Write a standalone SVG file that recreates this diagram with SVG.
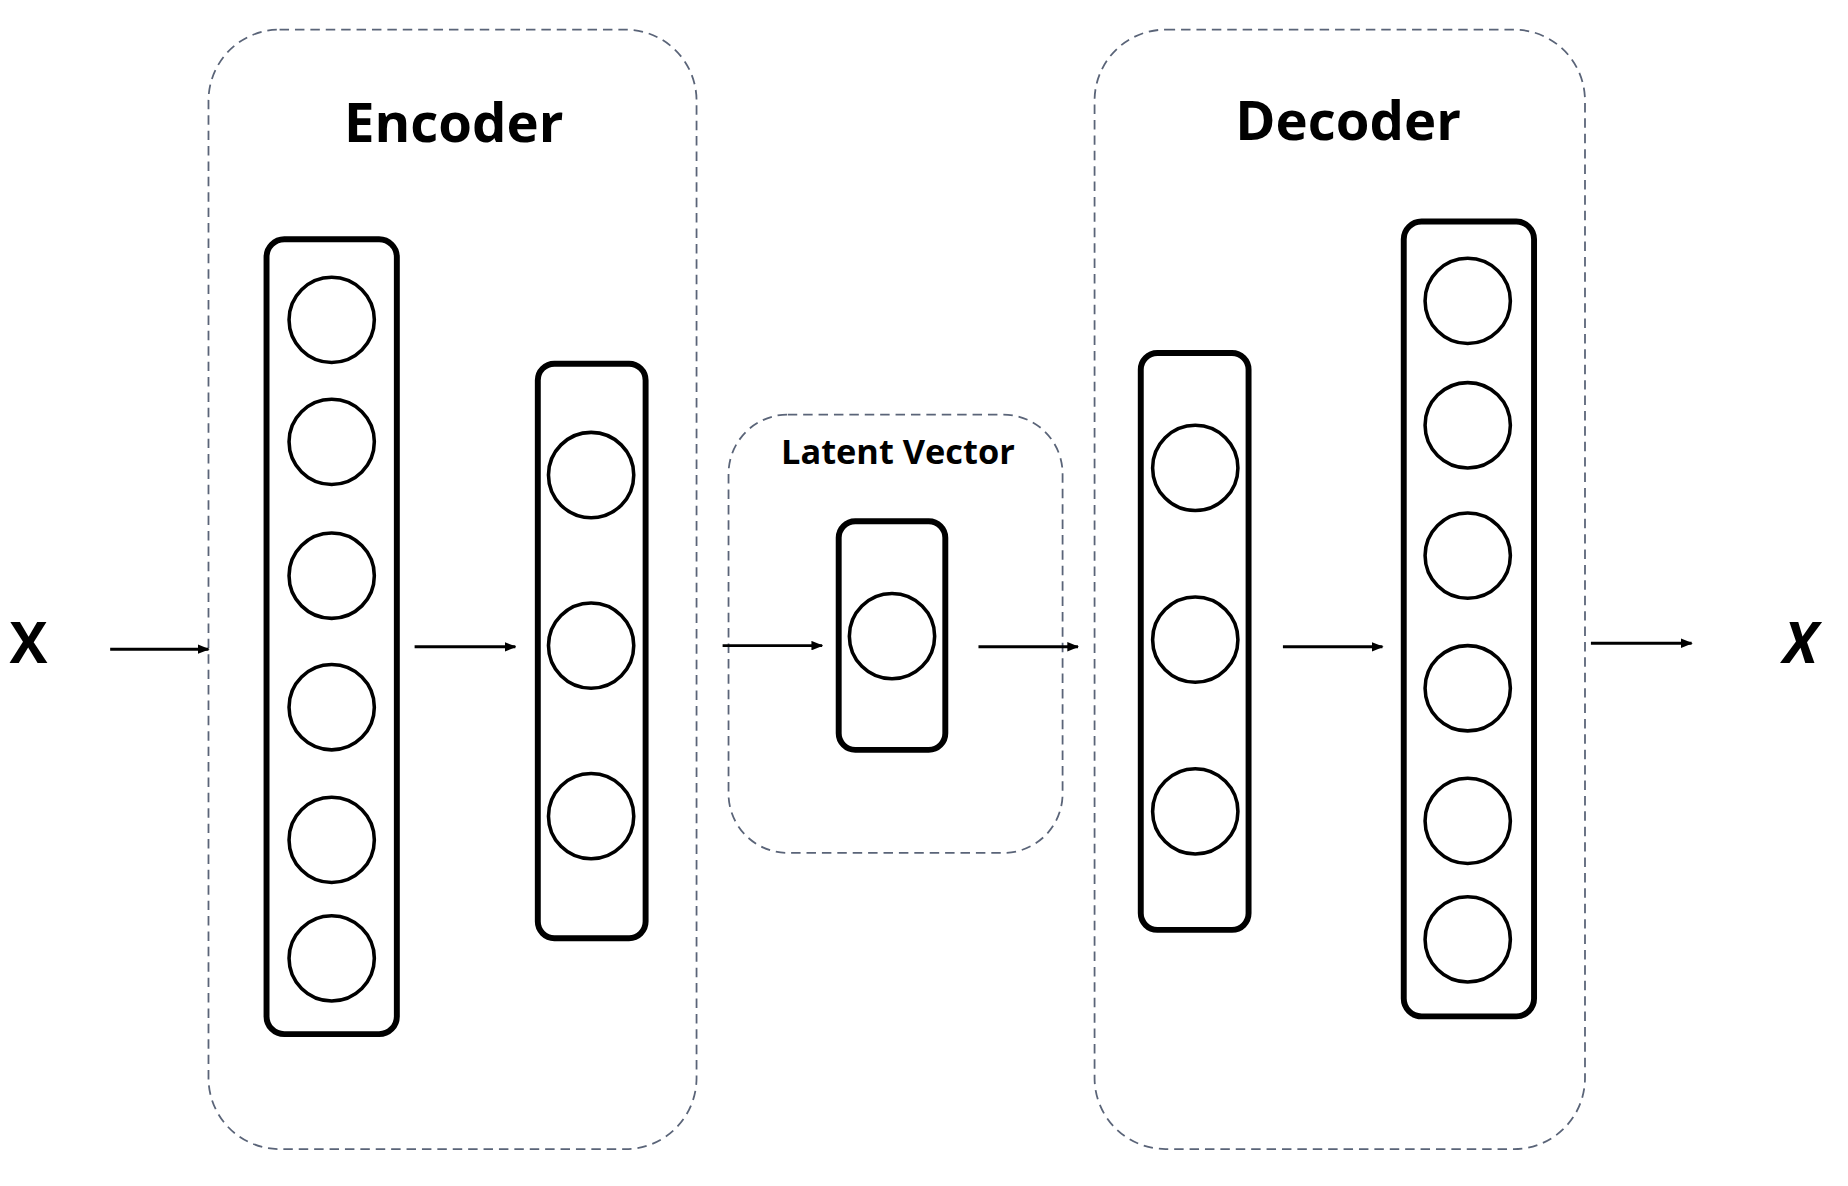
<svg xmlns="http://www.w3.org/2000/svg" width="1848" height="1186" viewBox="0 0 1848 1186">
<defs>
<marker id="ah" markerWidth="10" markerHeight="8" refX="9" refY="4" orient="auto" markerUnits="userSpaceOnUse"><path d="M0,0 L10,4 L0,8 Z" fill="#000"/></marker>
<style>
.grp{fill:none;stroke:#5a6478;stroke-width:1.5;stroke-dasharray:8,5}
.lay{fill:#fff;stroke:#000;stroke-width:5}
.neu{fill:#fff;stroke:#000;stroke-width:3}
.arr{stroke:#000;stroke-width:2.5;marker-end:url(#ah)}
.t{font-family:"Open Sans","DejaVu Sans",sans-serif;font-weight:bold;fill:#000;text-anchor:middle}
</style>
</defs>
<rect width="1848" height="1186" fill="#fff"/>
<g transform="scale(1.1846)">
<g id="encoder"><rect class="grp" x="176" y="25" width="412" height="945" rx="60"/><text class="t" x="383" y="120" font-size="46">Encoder</text></g>
<g id="decoder"><rect class="grp" x="924" y="25" width="414" height="945" rx="60"/><text class="t" x="1138" y="118" font-size="46">Decoder</text></g>
<g id="latent"><rect class="grp" x="615" y="350" width="282" height="370" rx="50"/><text class="t" x="758" y="392" font-size="29">Latent Vector</text></g>
<g id="enc1"><rect class="lay" x="225" y="202" width="110" height="671" rx="15"/>
<circle class="neu" cx="280" cy="270" r="36"/><circle class="neu" cx="280" cy="373" r="36"/><circle class="neu" cx="280" cy="486" r="36"/><circle class="neu" cx="280" cy="597" r="36"/><circle class="neu" cx="280" cy="709" r="36"/><circle class="neu" cx="280" cy="809" r="36"/></g>
<g id="enc2"><rect class="lay" x="454" y="307" width="91" height="485" rx="14"/>
<circle class="neu" cx="499" cy="401" r="36"/><circle class="neu" cx="499" cy="545" r="36"/><circle class="neu" cx="499" cy="689" r="36"/></g>
<g id="lat"><rect class="lay" x="708" y="440" width="90" height="193" rx="14"/><circle class="neu" cx="753" cy="537" r="36"/></g>
<g id="dec1"><rect class="lay" x="963" y="298" width="91" height="487" rx="14"/>
<circle class="neu" cx="1009" cy="395" r="36"/><circle class="neu" cx="1009" cy="540" r="36"/><circle class="neu" cx="1009" cy="685" r="36"/></g>
<g id="dec2"><rect class="lay" x="1185" y="187" width="110" height="671" rx="15"/>
<circle class="neu" cx="1239" cy="254" r="36"/><circle class="neu" cx="1239" cy="359" r="36"/><circle class="neu" cx="1239" cy="469" r="36"/><circle class="neu" cx="1239" cy="581" r="36"/><circle class="neu" cx="1239" cy="693" r="36"/><circle class="neu" cx="1239" cy="793" r="36"/></g>
<g id="input"><text class="t" x="24" y="560" font-size="48">X</text></g>
<g id="output"><text class="t" x="1520" y="560" font-size="48" font-style="italic">X</text></g>
<g id="connectors">
<line class="arr" x1="93" y1="548" x2="176" y2="548"/>
<line class="arr" x1="350" y1="546" x2="435" y2="546"/>
<line class="arr" x1="610" y1="545" x2="694" y2="545"/>
<line class="arr" x1="826" y1="546" x2="910" y2="546"/>
<line class="arr" x1="1083" y1="546" x2="1167" y2="546"/>
<line class="arr" x1="1343" y1="543" x2="1428" y2="543"/>
</g>
</g>
</svg>
